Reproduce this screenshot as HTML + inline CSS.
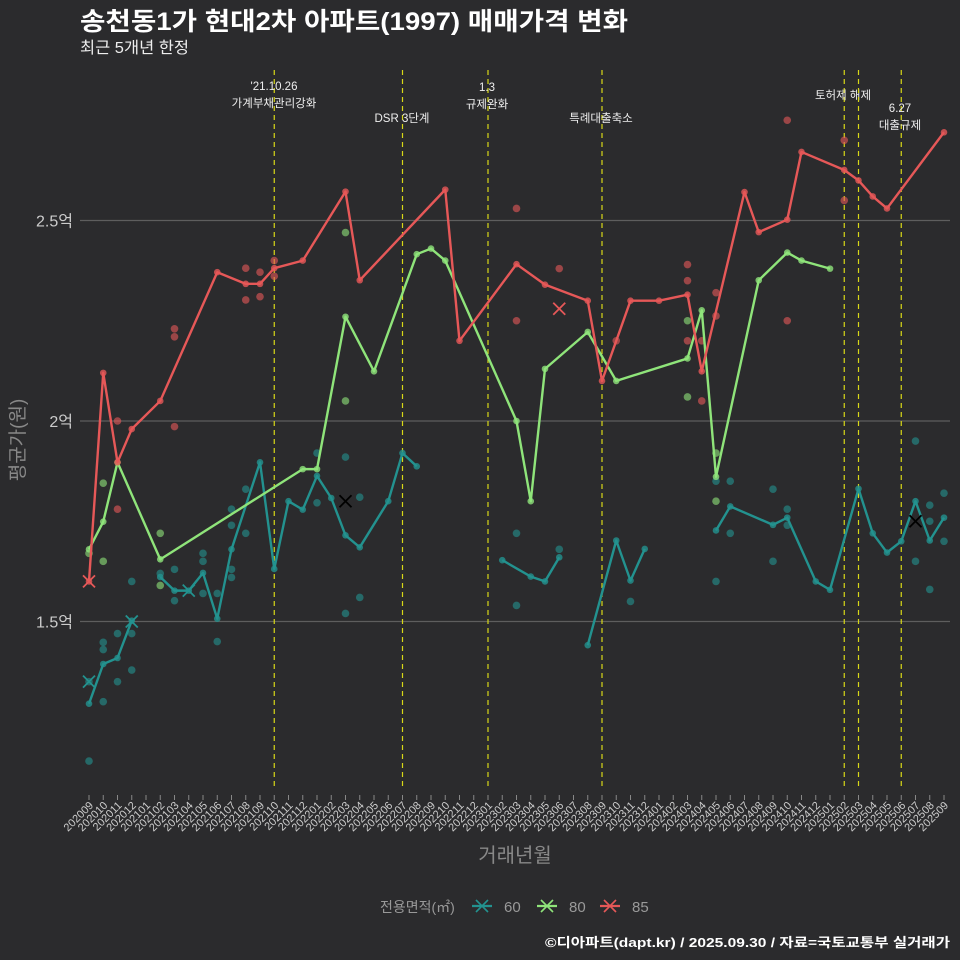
<!DOCTYPE html>
<html><head><meta charset="utf-8"><style>
body{margin:0;background:#2b2b2d;}
svg{display:block;font-family:"Liberation Sans","Noto Sans CJK KR",sans-serif;}
</style></head><body>
<svg id="c" width="960" height="960" viewBox="0 0 960 960">
<rect width="960" height="960" fill="#2b2b2d"/>
<text x="80" y="30" fill="#fff" font-size="25" font-weight="bold" textLength="548" lengthAdjust="spacingAndGlyphs">송천동1가 현대2차 아파트(1997) 매매가격 변화</text>
<text x="80" y="53" fill="#eee" font-size="16" textLength="109" lengthAdjust="spacingAndGlyphs">최근 5개년 한정</text>
<text transform="translate(24,440) rotate(-90)" text-anchor="middle" fill="#888" font-size="19">평균가(원)</text>
<text x="515" y="862" text-anchor="middle" fill="#888" font-size="20">거래년월</text>
<g>
<text x="380" y="912" fill="#999" font-size="14">전용면적(㎡)</text>
</g>
<text x="545" y="947" fill="#fff" font-size="13" font-weight="bold" textLength="405" lengthAdjust="spacingAndGlyphs">©디아파트(dapt.kr) / 2025.09.30 / 자료=국토교통부 실거래가</text>
<g id="plot"></g>
</svg>
<script>
const categories=[];for(let y=2020,m=9;categories.length<61;){categories.push(y+String(m).padStart(2,'0'));m++;if(m>12){m=1;y++;}}
const yTicks=[1.5,2,2.5];
const yTickLabels=["1.5억","2억","2.5억"];
const series60=[[0,1.295],[1,1.394],[2,1.409],[3,1.502],null,[5,1.611],[6,1.577],[7,1.577],[8,1.621],[9,1.507],[10,1.68],[12,1.897],[13,1.631],[14,1.80],[15,1.779],[16,1.863],[17,1.808],[18,1.715],[19,1.685],[21,1.80],[22,1.92],[23,1.887],null,[29,1.653],[31,1.612],[32,1.60],[33,1.66],null,[35,1.441],[37,1.702],[38,1.602],[39,1.681],null,[44,1.727],[45,1.787],[48,1.741],[49,1.759],[51,1.60],[52,1.579],[54,1.831],[55,1.72],[56,1.672],[57,1.70],[58,1.80],[59,1.702],[60,1.759]];
const series80=[[0,1.68],[1,1.749],[2,1.897],[5,1.655],[15,1.88],[16,1.88],[18,2.26],[20,2.124],[23,2.416],[24,2.43],[25,2.40],[30,2.00],[31,1.80],[32,2.13],[35,2.222],[37,2.10],[42,2.156],[43,2.276],[44,1.861],[47,2.351],[49,2.42],[50,2.40],[52,2.38]];
const series85=[[0,1.60],[1,2.12],[2,1.897],[3,1.98],[5,2.05],[9,2.371],[11,2.342],[12,2.342],[13,2.381],[15,2.40],[18,2.572],[19,2.351],[25,2.577],[26,2.20],[30,2.391],[32,2.34],[35,2.30],[36,2.10],[38,2.30],[40,2.30],[42,2.315],[43,2.124],[46,2.571],[47,2.471],[49,2.502],[50,2.671],[53,2.626],[54,2.60],[55,2.56],[56,2.53],[60,2.72]];
const scatter60=[[0,1.35],[0,1.152],[1,1.448],[1,1.43],[1,1.30],[2,1.47],[2,1.35],[3,1.60],[3,1.47],[3,1.379],[5,1.62],[6,1.63],[6,1.552],[8,1.67],[8,1.65],[8,1.57],[9,1.57],[9,1.45],[10,1.78],[10,1.74],[10,1.63],[10,1.61],[11,1.83],[11,1.72],[16,1.92],[16,1.796],[18,1.91],[18,1.52],[19,1.81],[19,1.56],[30,1.72],[30,1.54],[33,1.68],[38,1.55],[44,1.85],[44,1.60],[45,1.85],[45,1.72],[48,1.83],[48,1.65],[49,1.78],[49,1.74],[58,1.95],[58,1.65],[59,1.79],[59,1.75],[59,1.58],[60,1.82],[60,1.70]];
const scatter80=[[0,1.67],[1,1.845],[1,1.65],[5,1.72],[5,1.59],[18,2.47],[18,2.05],[42,2.25],[42,2.06],[44,1.92],[44,1.80]];
const scatter85=[[2,2.0],[2,1.78],[6,2.23],[6,2.21],[6,1.986],[11,2.381],[11,2.302],[12,2.371],[12,2.31],[13,2.40],[13,2.361],[30,2.53],[30,2.25],[33,2.38],[37,2.20],[42,2.39],[42,2.35],[42,2.20],[43,2.20],[43,2.05],[44,2.32],[44,2.262],[49,2.75],[49,2.25],[53,2.70],[53,2.55]];
const crosses60=[[0,1.35],[3,1.50],[7,1.577]];
const crossesBlack=[[18,1.80],[58,1.75]];
const crosses85=[[0,1.60],[33,2.28]];
const eventIdx=[13,22,28,36,53,54,57];
const eventLabels=[["'21.10.26","가계부채관리강화"],["DSR 3단계"],["1.3","규제완화"],["특례대출축소"],["토허제 해제"],[],["6.27","대출규제"]];
const eventLabelY=[90,122,91,122,99,0,112];
const eventLabelX=[274,402,487,601,843,0,900];

const X0=80,X1=950,Y0=70,Y1=790;
const x=i=>89+i*14.25;
const y=v=>421-(v-2)*401;
const NS="http://www.w3.org/2000/svg";
const plot=document.getElementById('plot');
function mk(tag,attrs,parent){const e=document.createElementNS(NS,tag);for(const k in attrs)e.setAttribute(k,attrs[k]);(parent||plot).appendChild(e);return e;}
yTicks.forEach((t,k)=>{
 const l=mk('line',{x1:X0,x2:X1,y1:y(t),y2:y(t),stroke:'#5e5e5e','stroke-width':1.2});
 
 
 const tx=mk('text',{x:73,y:y(t)+6,'text-anchor':'end',fill:'#ccc','font-size':16});tx.textContent=yTickLabels[k];
 
 
});
categories.forEach((c,i)=>{
 const t=mk('line',{x1:x(i),x2:x(i),y1:795,y2:800,stroke:'#888','stroke-width':1});
 
 
 const tx=mk('text',{transform:`translate(${x(i)+5},806) rotate(-45)`,'text-anchor':'end',fill:'#ccc','font-size':11});tx.textContent=c;
 
 
});
eventIdx.forEach((ix,k)=>{
 const l=mk('line',{x1:x(ix),x2:x(ix),y1:Y0,y2:Y1,stroke:'#d8d818','stroke-width':1.2,'stroke-dasharray':'5,4'});
 
 
 eventLabels[k].forEach((s,j)=>{
  const tx=mk('text',{x:eventLabelX[k],y:eventLabelY[k]+j*17,'text-anchor':'middle',fill:'#eee','font-size':11.5});tx.textContent=s;
  
  
 });
});
const cols={'60':'#23928f','80':'#8fe47a','85':'#e65858'};
function drawScatter(arr,col,nm){arr.forEach(p=>{const c=mk('circle',{cx:x(p[0]),cy:y(p[1]),r:3.8,fill:col,'fill-opacity':0.6});
 
 });}
function drawLine(arr,col,nm){
 let segs=[[]];arr.forEach(p=>{if(p===null)segs.push([]);else segs[segs.length-1].push(p);});
 segs.forEach(s=>{if(!s.length)return;
  const pl=mk('polyline',{points:s.map(p=>x(p[0])+','+y(p[1])).join(' '),fill:'none',stroke:col,'stroke-width':2.4,'stroke-linejoin':'round'});
  
  
  s.forEach(p=>{const c=mk('circle',{cx:x(p[0]),cy:y(p[1]),r:3.3,fill:col,'fill-opacity':0.8});
   
   });
 });
}
function cross(p,col,nm){const cx=x(p[0]),cy=y(p[1]),d=6;
 const g=mk('path',{d:`M${cx-d},${cy-d}L${cx+d},${cy+d}M${cx-d},${cy+d}L${cx+d},${cy-d}`,stroke:col,'stroke-width':1.8});
 
 }
drawScatter(scatter60,cols['60'],'scatter-60');
drawScatter(scatter80,cols['80'],'scatter-80');
drawScatter(scatter85,cols['85'],'scatter-85');
drawLine(series60,cols['60'],'line-60');
drawLine(series80,cols['80'],'line-80');
drawLine(series85,cols['85'],'line-85');
crosses60.forEach(p=>cross(p,cols['60'],'cross-60'));
crossesBlack.forEach(p=>cross(p,'#000','cross-60-black'));
crosses85.forEach(p=>cross(p,cols['85'],'cross-85'));
[['60',472],['80',537],['85',600]].forEach(([k,lx])=>{
 const g=mk('g',{});
 
 
 mk('line',{x1:lx,x2:lx+20,y1:906,y2:906,stroke:cols[k],'stroke-width':2.2},g);
 mk('path',{d:`M${lx+4},${900}L${lx+16},${912}M${lx+4},${912}L${lx+16},${900}`,stroke:cols[k],'stroke-width':1.6},g);
 const t=mk('text',{x:lx+32,y:912,fill:'#999','font-size':15},g);t.textContent=k;
});
</script>
</body></html>
